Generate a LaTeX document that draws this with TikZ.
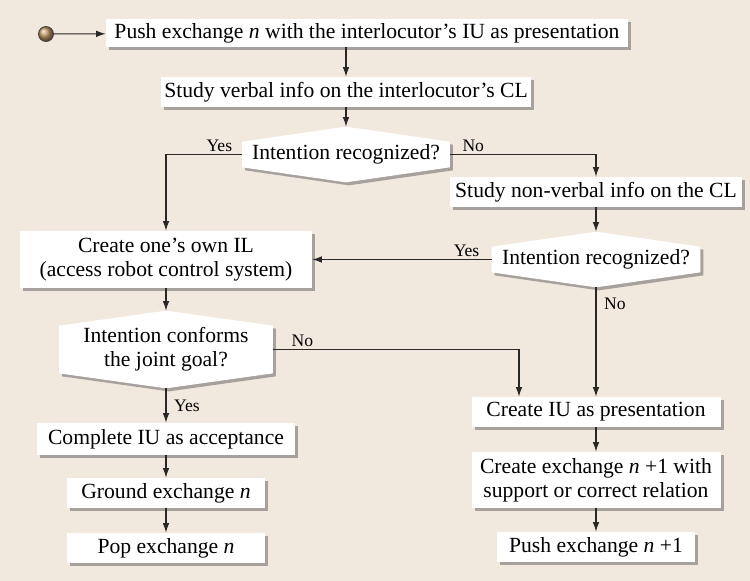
\documentclass[tikz,border=0pt]{standalone}
\usepackage{fontspec}
\setmainfont{Liberation Serif}
\usepackage{tikz}
\usetikzlibrary{arrows.meta, shadows}

\definecolor{paper}{RGB}{241,232,222}
\definecolor{wire}{RGB}{40,40,40}
\definecolor{bronze}{RGB}{190,150,98}

\pgfdeclarelayer{paperlayer}
\pgfdeclarelayer{shapelayer}
\pgfsetlayers{paperlayer,shapelayer,main}

\tikzset{
  softshadow/.style={drop shadow={shadow xshift=0.6mm, shadow yshift=-0.6mm, fill=black!70, opacity=0.45}},
  box/.style={fill=white, softshadow, align=center, inner sep=1pt, minimum height=6mm, font=\fontsize{12.3}{13.8}\selectfont},
  query/.style={align=center, inner sep=1pt, minimum height=11mm, font=\fontsize{12.3}{13.8}\selectfont},
  flow/.style={draw=wire, line width=0.6pt, -{Latex[length=1.9mm,width=1.3mm]}},
  tag/.style={font=\fontsize{10}{11}\selectfont, inner sep=1.5pt},
}

\begin{document}
\begin{tikzpicture}[x=0.2mm, y=-0.2mm]
\useasboundingbox (0,0) rectangle (750,581);

% Paper
\begin{pgfonlayer}{paperlayer}
\fill[paper] (0,0) rectangle (750,581);
\end{pgfonlayer}

% Start
\node[circle, draw=black!75, line width=0.5pt, ball color=bronze, minimum size=3mm, inner sep=0pt] (start) at (46,34) {};

% Left and top column
\node[box, minimum width=104.4mm, minimum height=5.6mm] (push) at (367,33) {Push exchange \textit{n} with the interlocutor’s IU as presentation};
\node[box, minimum width=73.8mm] (study) at (346,92) {Study verbal info on the interlocutor’s CL};
\node[query, minimum width=41.4mm] (q1) at (346,154.5) {Intention recognized?};
\node[box, minimum width=58.4mm, minimum height=11.4mm] (ownil) at (166,259.5) {Create one’s own IL\\(access robot control system)};
\node[query, minimum width=42.6mm, minimum height=15.4mm] (q3) at (166,349.5) {Intention conforms\\the joint goal?};
\node[box, minimum width=51.6mm, minimum height=6.4mm] (complete) at (166,439) {Complete IU as acceptance};
\node[box, minimum width=39.4mm] (ground) at (166,493) {Ground exchange \textit{n}};
\node[box, minimum width=39.4mm] (pop) at (166,548) {Pop exchange \textit{n}};

% Right column
\node[box, minimum width=58.4mm] (nonverbal) at (596,192) {Study non-verbal info on the CL};
\node[query, minimum width=41.6mm] (q2) at (596,259.5) {Intention recognized?};
\node[box, minimum width=49.8mm] (createiu) at (596,412) {Create IU as presentation};
\node[box, minimum width=49.8mm, minimum height=11.2mm] (exch) at (596,480) {Create exchange \textit{n} +1 with\\support or correct relation};
\node[box, minimum width=39.6mm] (pushnext) at (596,547) {Push exchange \textit{n} +1};

% Decision shapes
\begin{pgfonlayer}{shapelayer}
\foreach \q in {q1,q2,q3}
  \fill[white, softshadow] ([yshift=-3mm]\q.north west) -- (\q.north) -- ([yshift=-3mm]\q.north east)
    -- ([yshift=3mm]\q.south east) -- (\q.south) -- ([yshift=3mm]\q.south west) -- cycle;
\end{pgfonlayer}

% Connectors
\draw[flow] (start) -- (push);
\draw[flow] (study.north |- push.south) -- (study);
\draw[flow] (study) -- (q1);
\draw[flow] (q1.west) -| (ownil) node[tag, above, pos=0.15] {Yes};
\draw[flow] (q1.east) -| (nonverbal) node[tag, above, pos=0.08] {No};
\draw[flow] (nonverbal) -- (q2);
\draw[flow] (q2) -- (ownil) node[tag, above, pos=0.14] {Yes};
\draw[flow] (q2) -- (createiu) node[tag, right, xshift=1mm, pos=0.15] {No};
\draw[flow] (ownil) -- (q3);
\draw[flow] (q3.east) -| ([xshift=-15.4mm]createiu.north) node[tag, above, pos=0.06] {No};
\draw[flow] (q3) -- (complete) node[tag, right, xshift=1mm, pos=0.5] {Yes};
\draw[flow] (complete) -- (ground);
\draw[flow] (ground) -- (pop);
\draw[flow] (createiu) -- (exch);
\draw[flow] (exch) -- (pushnext);

\end{tikzpicture}
\end{document}
